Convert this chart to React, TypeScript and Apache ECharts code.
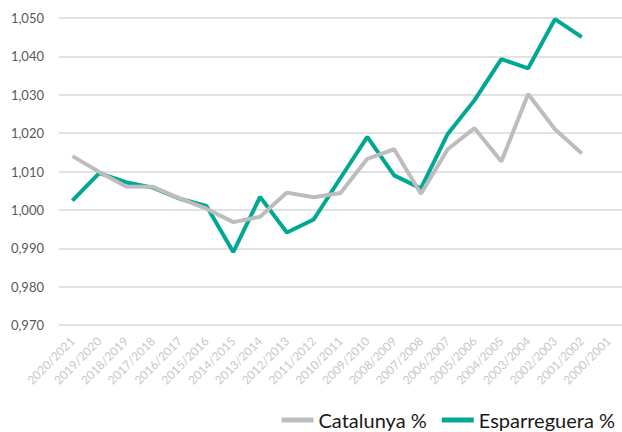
import React, { useEffect, useRef } from "react";
import * as echarts from "echarts";

const categories = [
  "2020/2021", "2019/2020", "2018/2019", "2017/2018", "2016/2017", "2015/2016",
  "2014/2015", "2013/2014", "2012/2013", "2011/2012", "2010/2011", "2009/2010",
  "2008/2009", "2007/2008", "2006/2007", "2005/2006", "2004/2005", "2003/2004",
  "2002/2003", "2001/2002", "2000/2001",
];

const catalunya = [
  1.014, 1.0099, 1.0061, 1.006, 1.003, 1.0003, 0.9968, 0.9982, 1.0045, 1.0033,
  1.0044, 1.0133, 1.0158, 1.0042, 1.0158, 1.0213, 1.0126, 1.0302, 1.021, 1.0147, null,
];

const esparreguera = [
  1.0024, 1.0096, 1.0072, 1.0058, 1.0029, 1.001, 0.989, 1.0034, 0.9941, 0.9975,
  1.0083, 1.019, 1.009, 1.0056, 1.0198, 1.0286, 1.0393, 1.0369, 1.0497, 1.045, null,
];

const yMin = 0.97;
const yMax = 1.05;
const yStep = 0.01;

export default function App() {
  const ref = useRef<HTMLDivElement>(null);
  useEffect(() => {
    if (!ref.current) return;
    const chart = echarts.init(ref.current, undefined, { renderer: "svg" });
    chart.setOption({
      animation: false,
      backgroundColor: "#ffffff",
      grid: { left: 59, right: 0, top: 18, bottom: 107, containLabel: false },
      xAxis: {
        type: "category",
        data: categories,
        boundaryGap: true,
        axisLine: { show: false },
        axisTick: { show: false },
        axisLabel: {
          interval: 0,
          rotate: 45,
          color: "#c8c8c8",
          fontSize: 12,
          fontFamily: "Lato",
          margin: 14,
        },
      },
      yAxis: {
        type: "value",
        min: yMin,
        max: yMax,
        interval: yStep,
        axisLine: { show: false },
        axisTick: { show: false },
        splitLine: { lineStyle: { color: "#d9d9d9", width: 1.5 } },
        axisLabel: {
          color: "#595959",
          fontSize: 13,
          fontFamily: "Lato",
          margin: 15,
          formatter: (v: number) => v.toFixed(3).replace(".", ","),
        },
      },
      legend: {
        data: ["Catalunya %", "Esparreguera %"],
        right: 2,
        top: 405,
        icon: "rect",
        itemWidth: 32,
        itemHeight: 5,
        itemGap: 15,
        textStyle: { color: "#1a1a1a", fontSize: 20, fontFamily: "Lato" },
      },
      series: [
        {
          name: "Esparreguera %",
          type: "line",
          data: esparreguera,
          showSymbol: false,
          symbol: "none",
          color: "#00a893",
          lineStyle: { color: "#00a893", width: 4 },
        },
        {
          name: "Catalunya %",
          type: "line",
          data: catalunya,
          showSymbol: false,
          symbol: "none",
          color: "#bdbdbd",
          lineStyle: { color: "#bdbdbd", width: 4 },
        },
      ],
    });
    return () => chart.dispose();
  }, []);
  return (
    <div
      ref={ref}
      style={{ position: "fixed", left: 0, top: 0, width: 622, height: 432 }}
    />
  );
}
